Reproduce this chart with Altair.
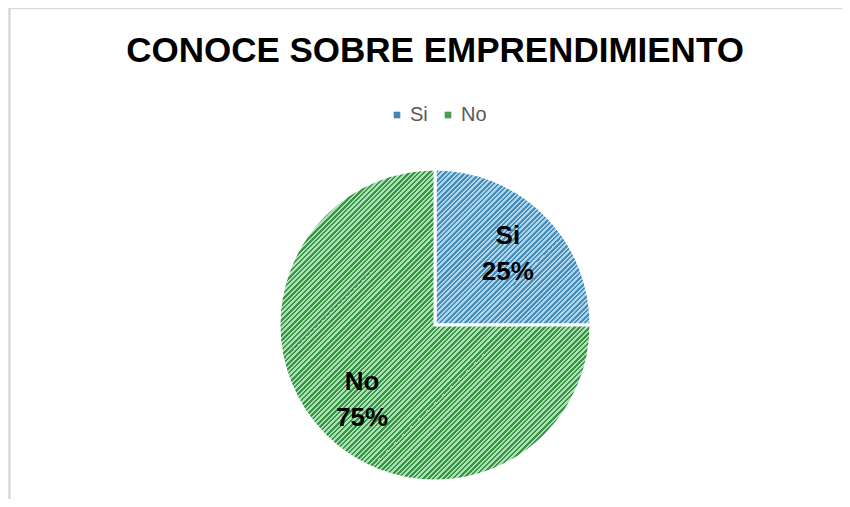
import altair as alt
import pandas as pd

# ---- data ----
categories = ["Si", "No"]
values = [25, 75]
pct_labels = ["25%", "75%"]
order_idx = [0, 1]
title_text = "CONOCE SOBRE EMPRENDIMIENTO"

df = pd.DataFrame({"cat": categories, "value": values, "pct": pct_labels, "idx": order_idx})
df["label"] = df["cat"] + "\n" + df["pct"]

# ---- layout / style ----
W, H = 834, 491
CX, CY = 427, 317
R = 156

BLUE_LIGHT, BLUE_DARK = "#acd6ec", "#4a8cb8"
GREEN_LIGHT, GREEN_DARK = "#a9e3b3", "#3a9347"
BLUE_LEG, GREEN_LEG = "#4285b4", "#44a04f"


def hatch(side_px, light, dark, period_px=5.0, frac=0.42):
    """Diagonal stripes from a linear gradient; period_px is the horizontal period."""
    step = period_px / (2.0 * side_px)
    stops = []
    t = 0.0
    while t < 1.0:
        b = min(t + step * (1 - frac), 1.0)
        c = min(t + step, 1.0)
        stops += [
            {"color": light, "offset": round(t, 5)},
            {"color": light, "offset": round(b, 5)},
            {"color": dark, "offset": round(b, 5)},
            {"color": dark, "offset": round(c, 5)},
        ]
        t += step
    return {"gradient": "linear", "x1": 0, "y1": 0, "x2": 1, "y2": 1, "stops": stops}


grad_blue = hatch(R, BLUE_LIGHT, BLUE_DARK)
grad_green = hatch(2 * R, GREEN_LIGHT, GREEN_DARK)

base = alt.Chart(df).encode(
    theta=alt.Theta("value:Q", stack=True),
    order=alt.Order("idx:Q"),
    x=alt.value(CX),
    y=alt.value(CY),
)

legend_layer = base.mark_arc(outerRadius=R).encode(
    color=alt.Color(
        "cat:N",
        scale=alt.Scale(domain=categories, range=[BLUE_LEG, GREEN_LEG]),
        legend=alt.Legend(
            title=None,
            orient="none",
            legendX=379,
            legendY=97,
            direction="horizontal",
            symbolType="square",
            symbolSize=44,
            symbolStrokeWidth=0,
            labelFontSize=20,
            labelColor="#595959",
            labelFont="Liberation Sans",
            labelOffset=3,
            columnPadding=10,
            padding=0,
        ),
    )
)

hatch_layer = base.mark_arc(outerRadius=R, stroke="white", strokeWidth=3).encode(
    fill=alt.condition(alt.datum.cat == "Si", alt.value(grad_blue), alt.value(grad_green))
)

text_layer = base.mark_text(
    radius=103,
    fontSize=26,
    fontWeight="bold",
    font="Liberation Sans",
    lineBreak="\n",
    lineHeight=36,
    color="black",
    align="center",
    baseline="middle",
    dy=-16,
).encode(text="label:N")

title_layer = alt.Chart(pd.DataFrame({"t": [title_text]})).mark_text(
    fontSize=35,
    fontWeight="bold",
    font="Liberation Sans",
    color="black",
    align="center",
    baseline="alphabetic",
).encode(x=alt.value(CX), y=alt.value(54), text="t:N")

border_df = pd.DataFrame({"k": [0]})
left_border = alt.Chart(border_df).mark_rule(color="#d9d9d9", strokeWidth=2.5).encode(
    x=alt.value(1.5), y=alt.value(0), y2=alt.value(H)
)
top_border = alt.Chart(border_df).mark_rule(color="#d9d9d9", strokeWidth=2.5).encode(
    x=alt.value(0), x2=alt.value(W), y=alt.value(0)
)

chart = (
    alt.layer(left_border, top_border, legend_layer, hatch_layer, text_layer, title_layer)
    .properties(width=W, height=H, autosize=alt.AutoSizeParams(type="none"), padding=0, background="white")
    .configure_view(stroke=None)
)

chart.save("out.html", embed_options={"renderer": "svg", "actions": False})
